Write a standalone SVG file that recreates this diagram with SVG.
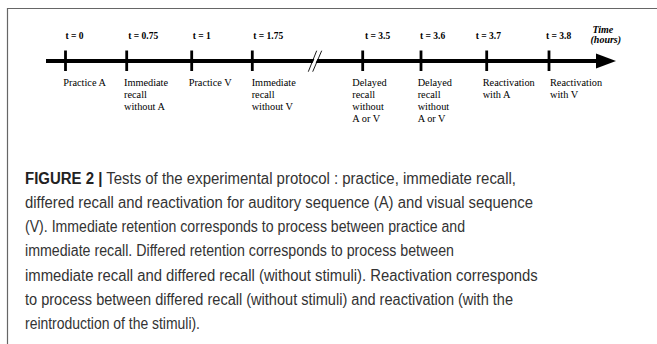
<svg xmlns="http://www.w3.org/2000/svg" width="657" height="344" viewBox="0 0 657 344">
<style>
.t{font-family:"Liberation Serif","Times New Roman",serif;font-size:9.5px;font-weight:bold;fill:#000}
.l{font-family:"Liberation Serif","Times New Roman",serif;font-size:10.3px;fill:#000}
.ax{font-family:"Liberation Serif","Times New Roman",serif;font-size:10px;font-weight:bold;font-style:italic;fill:#000}
.tick{stroke:#000;stroke-width:2.8}
.cap{font-family:"Liberation Sans",Arial,sans-serif;font-size:16px;fill:#333}
.b{font-weight:bold;fill:#222}
</style>
<rect width="657" height="344" fill="#fff"/>
<path d="M7.5,344 V8.5 H657" fill="none" stroke="#666" stroke-width="1.2"/>
<g id="connectors">
<line x1="46" y1="61" x2="598" y2="61" stroke="#000" stroke-width="4"/>
<polygon points="596,53.5 616,61 596,68.5" fill="#000"/>
<polygon points="309,71 318,51 321,51 312,71" fill="#fff"/>
<line x1="308.3" y1="71.7" x2="316.7" y2="50.7" stroke="#000" stroke-width="0.9"/>
<line x1="312.7" y1="71.7" x2="321.7" y2="50.7" stroke="#000" stroke-width="0.9"/>
</g>
<g id="axis-label"><text class="ax" x="592.5" y="32.5">Time</text><text class="ax" x="590.5" y="42.5">(hours)</text></g>
<g id="n1"><line class="tick" x1="65.5" y1="50.5" x2="65.5" y2="71"/><text class="t" x="65.5" y="38.5">t = 0</text><text class="l" x="63.3" y="85.5">Practice A</text></g>
<g id="n2"><line class="tick" x1="126.7" y1="50.5" x2="126.7" y2="71"/><text class="t" x="128.3" y="38.5">t = 0.75</text><text class="l"><tspan x="124" y="85.5">Immediate</tspan><tspan x="124" y="97.5">recall</tspan><tspan x="124" y="109.5">without A</tspan></text></g>
<g id="n3"><line class="tick" x1="191.7" y1="50.5" x2="191.7" y2="71"/><text class="t" x="192.7" y="38.5">t = 1</text><text class="l" x="188.7" y="85.5">Practice V</text></g>
<g id="n4"><line class="tick" x1="252.3" y1="50.5" x2="252.3" y2="71"/><text class="t" x="253.3" y="38.5">t = 1.75</text><text class="l"><tspan x="251.7" y="85.5">Immediate</tspan><tspan x="251.7" y="97.5">recall</tspan><tspan x="251.7" y="109.5">without V</tspan></text></g>
<g id="n5"><line class="tick" x1="362.7" y1="50.5" x2="362.7" y2="71"/><text class="t" x="365" y="38.5">t = 3.5</text><text class="l"><tspan x="352.3" y="85.5">Delayed</tspan><tspan x="352.3" y="97.5">recall</tspan><tspan x="352.3" y="109.5">without</tspan><tspan x="352.3" y="121.5">A or V</tspan></text></g>
<g id="n6"><line class="tick" x1="421" y1="50.5" x2="421" y2="71"/><text class="t" x="420" y="38.5">t = 3.6</text><text class="l"><tspan x="417.7" y="85.5">Delayed</tspan><tspan x="417.7" y="97.5">recall</tspan><tspan x="417.7" y="109.5">without</tspan><tspan x="417.7" y="121.5">A or V</tspan></text></g>
<g id="n7"><line class="tick" x1="486.7" y1="50.5" x2="486.7" y2="71"/><text class="t" x="475.7" y="38.5">t = 3.7</text><text class="l"><tspan x="482.7" y="85.5">Reactivation</tspan><tspan x="482.7" y="97.5">with A</tspan></text></g>
<g id="n8"><line class="tick" x1="549" y1="50.5" x2="549" y2="71"/><text class="t" x="546" y="38.5">t = 3.8</text><text class="l"><tspan x="550" y="85.5">Reactivation</tspan><tspan x="550" y="97.5">with V</tspan></text></g>
<g id="caption">
<text class="cap" x="25" y="183.5" textLength="491" lengthAdjust="spacingAndGlyphs"><tspan class="b">FIGURE 2 |</tspan> Tests of the experimental protocol : practice, immediate recall,</text>
<text class="cap" x="25" y="207.8" textLength="508" lengthAdjust="spacingAndGlyphs">differed recall and reactivation for auditory sequence (A) and visual sequence</text>
<text class="cap" x="25" y="232.1" textLength="440" lengthAdjust="spacingAndGlyphs">(V). Immediate retention corresponds to process between practice and</text>
<text class="cap" x="25" y="256.4" textLength="429" lengthAdjust="spacingAndGlyphs">immediate recall. Differed retention corresponds to process between</text>
<text class="cap" x="25" y="280.7" textLength="512.7" lengthAdjust="spacingAndGlyphs">immediate recall and differed recall (without stimuli). Reactivation corresponds</text>
<text class="cap" x="25" y="305" textLength="488" lengthAdjust="spacingAndGlyphs">to process between differed recall (without stimuli) and reactivation (with the</text>
<text class="cap" x="25" y="329.3" textLength="175" lengthAdjust="spacingAndGlyphs">reintroduction of the stimuli).</text>
</g>
</svg>
